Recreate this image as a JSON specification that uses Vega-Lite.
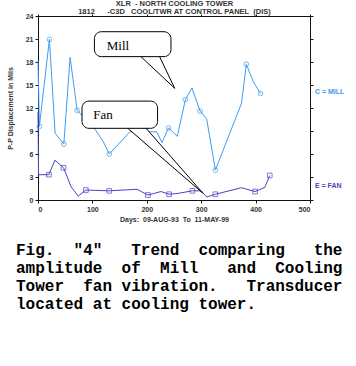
{
  "$schema": "https://vega.github.io/schema/vega-lite/v6.json",
  "width": 272,
  "height": 184,
  "autosize": {"type": "none"},
  "padding": {"left": 38, "top": 16, "right": 46, "bottom": 166},
  "background": "white",
  "config": {
    "view": {"stroke": null},
    "font": "Liberation Sans",
    "axis": {
      "grid": false,
      "domainColor": "#111",
      "tickColor": "#111",
      "tickSize": 3,
      "labelFont": "Liberation Sans",
      "labelFontSize": 7,
      "labelFontWeight": "bold",
      "labelColor": "#333",
      "titleFont": "Liberation Sans",
      "titleFontSize": 7,
      "titleFontWeight": "bold",
      "titleColor": "#333"
    }
  },
  "title": {
    "text": [
      "Fig.\u00a0\u00a0\"4\"\u00a0\u00a0\u00a0Trend\u00a0\u00a0comparing\u00a0\u00a0\u00a0the",
      "amplitude\u00a0\u00a0of\u00a0\u00a0Mill\u00a0\u00a0\u00a0and\u00a0\u00a0Cooling",
      "Tower\u00a0\u00a0fan\u00a0vibration.\u00a0\u00a0\u00a0Transducer",
      "located at cooling tower."
    ],
    "orient": "bottom",
    "anchor": "start",
    "frame": "group",
    "dx": -22,
    "offset": 20,
    "font": "Liberation Mono",
    "fontSize": 16,
    "fontWeight": "bold",
    "lineHeight": 18,
    "color": "black"
  },
  "datasets": {
    "series": [
      {"series": "Mill", "day": 0, "val": 18.2},
      {"series": "Mill", "day": 2.5, "val": 9.6},
      {"series": "Mill", "day": 21, "val": 20.95},
      {"series": "Mill", "day": 31.5, "val": 8.7},
      {"series": "Mill", "day": 47.5, "val": 7.3},
      {"series": "Mill", "day": 59, "val": 18.6},
      {"series": "Mill", "day": 72, "val": 11.7},
      {"series": "Mill", "day": 105, "val": 9.2},
      {"series": "Mill", "day": 120, "val": 7.6},
      {"series": "Mill", "day": 131, "val": 6.0},
      {"series": "Mill", "day": 169, "val": 8.9},
      {"series": "Mill", "day": 218, "val": 8.9},
      {"series": "Mill", "day": 228, "val": 7.5},
      {"series": "Mill", "day": 240, "val": 9.4},
      {"series": "Mill", "day": 256, "val": 8.3},
      {"series": "Mill", "day": 271, "val": 13.1},
      {"series": "Mill", "day": 283, "val": 14.6},
      {"series": "Mill", "day": 298, "val": 11.6},
      {"series": "Mill", "day": 310, "val": 10.6},
      {"series": "Mill", "day": 326, "val": 3.9},
      {"series": "Mill", "day": 374, "val": 12.6},
      {"series": "Mill", "day": 383, "val": 17.7},
      {"series": "Mill", "day": 396, "val": 15.4},
      {"series": "Mill", "day": 409, "val": 13.9},
      {"series": "Fan", "day": 0, "val": 11.5},
      {"series": "Fan", "day": 1, "val": 3.3},
      {"series": "Fan", "day": 20, "val": 3.3},
      {"series": "Fan", "day": 31, "val": 5.2},
      {"series": "Fan", "day": 47, "val": 4.2},
      {"series": "Fan", "day": 61, "val": 1.7},
      {"series": "Fan", "day": 74, "val": 0.5},
      {"series": "Fan", "day": 88, "val": 1.3},
      {"series": "Fan", "day": 131, "val": 1.2},
      {"series": "Fan", "day": 182, "val": 1.4},
      {"series": "Fan", "day": 202, "val": 0.65},
      {"series": "Fan", "day": 226, "val": 1.1},
      {"series": "Fan", "day": 241, "val": 0.75},
      {"series": "Fan", "day": 258, "val": 0.87},
      {"series": "Fan", "day": 284, "val": 1.2},
      {"series": "Fan", "day": 300, "val": 1.2},
      {"series": "Fan", "day": 310, "val": 0.4},
      {"series": "Fan", "day": 326, "val": 0.75},
      {"series": "Fan", "day": 374, "val": 1.6},
      {"series": "Fan", "day": 399, "val": 1.1},
      {"series": "Fan", "day": 417, "val": 1.65},
      {"series": "Fan", "day": 426, "val": 3.2}
    ],
    "markers": [
      {"series": "Mill", "day": 2.5, "val": 9.6},
      {"series": "Mill", "day": 21, "val": 20.95},
      {"series": "Mill", "day": 47.5, "val": 7.3},
      {"series": "Mill", "day": 72, "val": 11.7},
      {"series": "Mill", "day": 131, "val": 6.0},
      {"series": "Mill", "day": 240, "val": 9.4},
      {"series": "Mill", "day": 271, "val": 13.1},
      {"series": "Mill", "day": 298, "val": 11.6},
      {"series": "Mill", "day": 326, "val": 3.9},
      {"series": "Mill", "day": 383, "val": 17.7},
      {"series": "Mill", "day": 409, "val": 13.9},
      {"series": "Fan", "day": 20, "val": 3.3},
      {"series": "Fan", "day": 47, "val": 4.2},
      {"series": "Fan", "day": 88, "val": 1.3},
      {"series": "Fan", "day": 131, "val": 1.2},
      {"series": "Fan", "day": 202, "val": 0.65},
      {"series": "Fan", "day": 241, "val": 0.75},
      {"series": "Fan", "day": 284, "val": 1.2},
      {"series": "Fan", "day": 326, "val": 0.75},
      {"series": "Fan", "day": 399, "val": 1.1},
      {"series": "Fan", "day": 426, "val": 3.2}
    ],
    "tailFill": [
      {"callout": "Mill", "day": 187.6, "top": 18.8, "bottom": 18.8},
      {"callout": "Mill", "day": 222.8, "top": 18.8, "bottom": 16.46},
      {"callout": "Mill", "day": 251.3, "top": 14.57, "bottom": 14.57},
      {"callout": "Fan", "day": 164.3, "top": 9.4, "bottom": 9.4},
      {"callout": "Fan", "day": 198.1, "top": 9.4, "bottom": 7.33},
      {"callout": "Fan", "day": 303, "top": 0.9, "bottom": 0.9}
    ],
    "tailLines": [
      {"d1": 187.6, "v1": 18.8, "d2": 251.3, "v2": 14.57},
      {"d1": 222.8, "v1": 18.8, "d2": 251.3, "v2": 14.57},
      {"d1": 164.3, "v1": 9.4, "d2": 303, "v2": 0.9},
      {"d1": 198.1, "v1": 9.4, "d2": 303, "v2": 0.9}
    ],
    "boxes": [
      {"label": "Mill", "d1": 103.7, "d2": 244.4, "v1": 18.7, "v2": 21.95, "td": 126.3, "tv": 20.1},
      {"label": "Fan", "d1": 80.9, "d2": 219.8, "v1": 9.35, "v2": 12.9, "td": 101.7, "tv": 11.1}
    ],
    "endLabels": [
      {"series": "Mill", "label": "C = MILL", "day": 509, "val": 14.1},
      {"series": "Fan", "label": "E = FAN", "day": 509, "val": 1.8}
    ]
  },
  "resolve": {"axis": {"x": "independent", "y": "independent"}},
  "layer": [
    {
      "data": {"name": "series"},
      "mark": {"type": "line", "strokeWidth": 1},
      "encoding": {
        "x": {
          "field": "day", "type": "quantitative",
          "scale": {"domain": [0, 500], "nice": false, "zero": false},
          "axis": {
            "orient": "bottom",
            "values": [0, 100, 200, 300, 400, 500],
            "labelPadding": 2,
            "title": "Days:\u00a0\u00a009-AUG-93\u00a0\u00a0To\u00a0\u00a011-MAY-99",
            "titlePadding": 3
          }
        },
        "y": {
          "field": "val", "type": "quantitative",
          "scale": {"domain": [0, 24], "nice": false},
          "axis": {
            "orient": "left",
            "values": [0, 3, 6, 9, 12, 15, 18, 21, 24],
            "labelPadding": 2,
            "title": "P-P Displacement in Mils",
            "titlePadding": 12
          }
        },
        "color": {
          "field": "series", "type": "nominal",
          "scale": {"domain": ["Mill", "Fan"], "range": ["#3d9cf2", "#4a44c6"]},
          "legend": null
        },
        "order": {"field": "day", "type": "quantitative"}
      }
    },
    {
      "data": {"name": "markers"},
      "mark": {"type": "point", "filled": false, "size": 22, "strokeWidth": 1},
      "encoding": {
        "x": {
          "field": "day", "type": "quantitative",
          "axis": {
            "orient": "top",
            "values": [0, 100, 200, 300, 400, 500],
            "labels": false,
            "tickSize": 2,
            "title": ["XLR\u00a0\u00a0- NORTH COOLING TOWER", "1812\u00a0\u00a0\u00a0\u00a0\u00a0\u00a0-C3D\u00a0\u00a0\u00a0COOL/TWR AT CONTROL PANEL\u00a0\u00a0(DIS)"],
            "titlePadding": -1.5,
            "titleFontSize": 7.5,
            "titleLineHeight": 8
          }
        },
        "y": {
          "field": "val", "type": "quantitative",
          "axis": {
            "orient": "right",
            "values": [0, 3, 6, 9, 12, 15, 18, 21, 24],
            "labels": false,
            "title": null
          }
        },
        "color": {"field": "series", "type": "nominal", "legend": null},
        "shape": {
          "field": "series", "type": "nominal",
          "scale": {"domain": ["Mill", "Fan"], "range": ["circle", "square"]},
          "legend": null
        }
      }
    },
    {
      "data": {"name": "tailFill"},
      "mark": {"type": "area", "color": "white", "opacity": 1},
      "encoding": {
        "x": {"field": "day", "type": "quantitative", "axis": null},
        "y": {"field": "top", "type": "quantitative", "axis": null},
        "y2": {"field": "bottom"},
        "detail": {"field": "callout"}
      }
    },
    {
      "data": {"name": "tailLines"},
      "mark": {"type": "rule", "color": "black", "strokeWidth": 1},
      "encoding": {
        "x": {"field": "d1", "type": "quantitative", "axis": null},
        "y": {"field": "v1", "type": "quantitative", "axis": null},
        "x2": {"field": "d2"},
        "y2": {"field": "v2"}
      }
    },
    {
      "data": {"name": "boxes"},
      "mark": {"type": "rect", "fill": "white", "stroke": "black", "strokeWidth": 1, "cornerRadius": 7},
      "encoding": {
        "x": {"field": "d1", "type": "quantitative", "axis": null},
        "x2": {"field": "d2"},
        "y": {"field": "v1", "type": "quantitative", "axis": null},
        "y2": {"field": "v2"}
      }
    },
    {
      "data": {"name": "boxes"},
      "mark": {"type": "text", "align": "left", "baseline": "middle", "font": "Liberation Serif", "fontSize": 13, "color": "black"},
      "encoding": {
        "x": {"field": "td", "type": "quantitative", "axis": null},
        "y": {"field": "tv", "type": "quantitative", "axis": null},
        "text": {"field": "label"}
      }
    },
    {
      "data": {"name": "endLabels"},
      "mark": {"type": "text", "align": "left", "baseline": "middle", "font": "Liberation Sans", "fontSize": 7, "fontWeight": "bold"},
      "encoding": {
        "x": {"field": "day", "type": "quantitative", "axis": null},
        "y": {"field": "val", "type": "quantitative", "axis": null},
        "text": {"field": "label"},
        "color": {"field": "series", "type": "nominal", "legend": null}
      }
    }
  ]
}
